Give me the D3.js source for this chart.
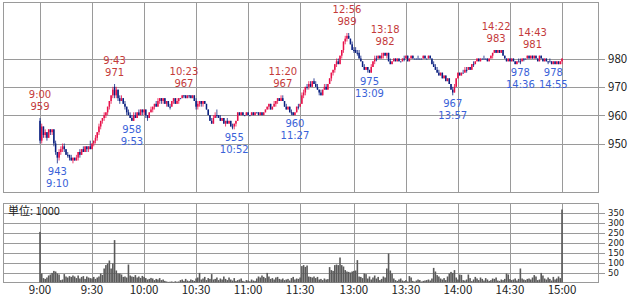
<!DOCTYPE html>
<html>
<head>
<meta charset="utf-8">
<script src="https://cdn.jsdelivr.net/npm/d3@7"></script>
<style>
body { margin: 0; background: #fff; }
svg text { font-family: "Noto Sans CJK JP", "DejaVu Sans", sans-serif; }
</style>
</head>
<body>
<svg id="chart" width="637" height="297"></svg>
<script>
// 1-minute candles [open, high, low, close], morning session from 9:00
const amCandles = [
    [958,959,950,951],[951,957,950,956],[956,956,952,953],[953,955,952,954],[954,954,951,952],[952,955,952,955],[955,955,953,954],[954,955,953,955],[955,955,949,950],[950,951,946,947],
    [947,947,943,945],[945,948,944,947],[947,949,946,948],[948,950,947,949],[949,950,947,948],[948,948,946,946],[946,947,945,946],[946,946,944,945],[945,946,944,944],[944,945,943,945],
    [945,945,944,944],[944,946,944,945],[945,947,944,947],[947,948,945,946],[946,948,946,948],[948,949,947,947],[947,949,947,949],[949,949,947,948],[948,949,947,949],[949,951,948,948],
    [948,950,948,950],[950,951,949,951],[951,953,950,952],[952,954,951,954],[954,957,953,956],[956,958,955,958],[958,959,957,959],[959,961,958,960],[960,961,959,961],[961,963,960,963],
    [963,965,962,965],[965,967,964,967],[967,970,966,969],[970,971,966,967],[967,970,966,969],[969,969,965,966],[966,967,964,965],[965,967,965,966],[966,966,964,964],[964,965,962,963],
    [963,963,960,961],[961,962,960,960],[960,961,959,959],[959,960,958,958],[958,961,958,960],[960,961,959,959],[959,961,959,961],[961,962,960,960],[960,962,960,962],[962,962,960,961],
    [961,962,960,962],[962,962,959,960],[960,960,958,959],[959,961,959,961],[961,963,961,962],[962,963,961,963],[963,964,962,964],[964,965,963,963],[963,966,963,965],[965,966,964,966],
    [966,966,964,965],[965,966,964,966],[966,966,964,964],[964,965,963,965],[965,965,963,963],[963,964,962,963],[963,965,963,965],[965,966,964,966],[966,966,964,964],[964,966,964,965],
    [965,966,964,966],[966,966,966,966],[966,967,966,967],[967,967,966,967],[967,967,966,966],[966,967,966,967],[967,967,966,967],[967,967,966,966],[966,967,966,967],[967,967,965,965],
    [965,966,962,963],[963,965,962,964],[964,965,963,965],[965,965,963,964],[964,965,963,965],[965,965,964,964],[964,964,962,962],[962,962,960,960],[960,960,958,958],[958,959,957,957],
    [957,960,957,959],[959,961,959,960],[960,962,959,960],[960,960,959,959],[959,960,958,958],[958,959,958,959],[959,959,957,957],[957,958,956,958],[958,959,957,957],[957,958,957,958],
    [958,958,956,956],[956,957,955,956],[956,957,955,957],[957,958,956,958],[958,961,958,961],[961,961,960,960],[960,961,960,961],[961,961,960,960],[960,960,960,960],[960,961,960,961],
    [961,961,960,960],[960,960,960,960],[960,961,960,961],[961,961,960,960],[960,961,960,961],[961,961,961,961],[961,961,960,960],[960,961,960,961],[961,961,960,960],[960,961,960,961],
    [961,962,961,962],[962,963,962,963],[963,964,962,964],[964,964,962,962],[962,963,962,963],[963,965,963,964],[964,965,963,965],[965,966,964,966],[966,966,965,965],[965,967,965,966],
    [966,967,965,965],[965,965,963,963],[963,964,962,962],[962,963,962,963],[963,963,961,961],[961,962,960,961],[961,961,960,960],[960,961,960,961],[961,963,961,963],[963,964,962,963],[963,964,963,964]
];

// afternoon session from 12:30
const pmCandles = [
    [964,968,964,967],[967,969,966,968],[968,970,967,970],[970,971,969,970],[970,972,969,971],[971,972,970,970],[970,972,970,972],[972,973,971,971],[971,972,970,970],[970,971,969,969],
    [969,969,967,968],[968,969,967,967],[967,969,967,969],[969,971,969,970],[970,971,969,969],[969,971,969,971],[971,973,971,973],[973,975,972,975],[975,976,974,976],[976,978,975,978],
    [978,980,977,979],[979,980,978,978],[978,981,978,981],[981,983,980,983],[983,986,982,986],[986,988,985,987],[987,989,986,988],[988,989,987,987],[987,987,985,985],[985,986,983,983],
    [983,984,982,983],[983,984,982,982],[982,983,981,982],[982,983,980,980],[980,981,979,979],[979,979,977,977],[977,978,976,976],[976,977,976,977],[977,977,975,976],[976,976,975,975],
    [975,978,975,977],[977,979,977,979],[979,981,978,980],[980,981,979,980],[980,981,980,981],[981,981,980,980],[980,982,980,981],[981,982,980,982],[982,982,981,981],[981,982,980,982],
    [982,982,979,979],[979,980,978,978],[978,979,978,979],[979,980,979,980],[980,980,979,979],[979,980,979,980],[980,980,979,979],[979,979,979,979],[979,980,979,980],[980,981,979,980],
    [980,981,980,981],[981,981,979,979],[979,980,979,980],[980,981,980,981],[981,981,980,980],[980,980,980,980],[980,980,980,980],[980,981,980,980],[980,980,980,980],[980,980,980,980],
    [980,981,980,981],[981,981,980,980],[980,980,980,980],[980,981,980,981],[981,981,980,980],[980,980,978,978],[978,979,977,977],[977,978,976,976],[976,977,975,975],[975,976,974,974],
    [974,975,974,975],[975,975,973,973],[973,974,973,974],[974,974,972,972],[972,973,972,973],[973,973,971,971],[971,971,969,969],[969,970,967,968],[968,971,968,970],[970,973,970,973],
    [973,975,973,975],[975,975,974,974],[974,975,974,975],[975,976,975,975],[975,977,975,976],[976,977,975,976],[976,977,976,977],[977,977,976,976],[976,978,976,978],[978,979,977,978],
    [978,979,978,979],[979,980,979,980],[980,980,979,979],[979,980,979,980],[980,980,980,980],[980,981,980,980],[980,980,980,980],[980,980,979,979],[979,980,979,980],[980,981,980,981],
    [981,982,980,982],[982,983,982,983],[983,983,982,982],[982,983,982,983],[983,983,982,982],[982,983,982,983],[983,983,981,981],[981,981,980,980],[980,980,979,979],[979,980,979,980],
    [980,980,979,979],[979,980,979,980],[980,980,979,979],[979,979,978,978],[978,979,978,979],[979,980,979,979],[979,980,978,979],[979,980,979,980],[980,980,979,980],[980,980,980,980],
    [980,981,980,981],[981,981,980,980],[980,981,980,981],[981,981,980,980],[980,981,980,981],[981,981,980,980],[980,980,979,979],[979,981,979,981],[981,981,980,980],[980,980,979,979],
    [979,980,979,980],[980,980,979,979],[979,979,978,979],[979,980,979,979],[979,979,978,978],[978,979,978,979],[979,979,978,978],[978,979,978,979],[979,979,978,978],[978,979,978,979],[979,980,978,980]
];

// volume per minute, unit 1000 shares
const amVolume = [
    253, 45, 22, 18, 25, 35, 40, 48, 58, 55,
    45, 40, 12, 15, 42, 30, 25, 32, 28, 35,
    30, 22, 35, 20, 28, 32, 18, 30, 25, 22,
    20, 28, 18, 25, 30, 45, 38, 70, 87, 95,
    110, 70, 95, 212, 60, 45, 45, 40, 28, 30,
    25, 90, 35, 30, 28, 37, 25, 30, 23, 33,
    28, 22, 15, 18, 23, 20, 12, 18, 15, 22,
    12, 15, 8, 5, 3, 4, 5, 3, 6, 4,
    5, 12, 15, 8, 18, 10, 7, 15, 12, 8,
    20, 25, 48, 15, 20, 28, 12, 22, 18, 42,
    15, 18, 25, 12, 20, 15, 30, 18, 12, 25,
    15, 10, 22, 8, 12, 15, 20, 8, 5, 12,
    10, 6, 15, 10, 8, 20, 30, 25, 35, 28,
    22, 48, 30, 18, 22, 15, 25, 28, 18, 15,
    20, 12, 15, 18, 10, 22, 28, 15, 20, 18, 25
];
const pmVolume = [
    82, 87, 78, 85, 30, 28, 25, 30, 22, 28,
    15, 18, 12, 20, 15, 17, 77, 62, 58, 87,
    90, 87, 125, 87, 80, 62, 55, 53, 50, 55,
    58, 60, 112, 30, 28, 22, 45, 42, 20, 30,
    15, 25, 35, 20, 28, 12, 18, 30, 25, 70,
    145, 60, 45, 20, 12, 8, 15, 20, 10, 7,
    12, 5, 32, 25, 8, 5, 10, 15, 12, 5,
    8, 10, 12, 15, 10, 20, 73, 55, 37, 30,
    20, 15, 22, 12, 30, 45, 53, 48, 62, 25,
    15, 40, 38, 12, 10, 15, 40, 22, 7, 15,
    28, 20, 12, 25, 18, 10, 22, 15, 8, 12,
    20, 18, 25, 10, 8, 15, 12, 18, 45, 40,
    17, 12, 15, 20, 10, 18, 70, 20, 15, 12,
    18, 20, 15, 25, 37, 30, 12, 15, 48, 35,
    20, 15, 25, 18, 10, 28, 15, 20, 30, 22, 365
];

const tickTimes = ['9:00', '9:30', '10:00', '10:30', '11:00', '11:30', '13:00', '13:30', '14:00', '14:30', '15:00'];
const priceTicks = [950, 960, 970, 980];
const volumeTicks = [50, 100, 150, 200, 250, 300, 350];

// labelled highs / lows
const markTimes = ['9:00', '9:10', '9:43', '9:53', '10:23', '10:52', '11:20', '11:27', '12:56', '13:09', '13:18', '13:57', '14:22', '14:36', '14:43', '14:55'];
const markKinds = ['high', 'low', 'high', 'low', 'high', 'low', 'high', 'low', 'high', 'low', 'high', 'low', 'high', 'low', 'high', 'low'];

const upColor = '#e8104a';
const downColor = '#0a2080';
const gridColor = '#9a9a9a';

const fmtTime = m => `${Math.floor(m / 60)}:${String(m % 60).padStart(2, '0')}`;
const times = d3.range(amCandles.length).map(i => fmtTime(540 + i))
    .concat(d3.range(pmCandles.length).map(i => fmtTime(750 + i)));
const volumes = amVolume.concat(pmVolume);
const bars = amCandles.concat(pmCandles).map((d, i) => ({
    time: times[i], open: d[0], high: d[1], low: d[2], close: d[3], volume: volumes[i]
}));
const byTime = new Map(bars.map(d => [d.time, d]));

const svg = d3.select('#chart');

const x = d3.scalePoint().domain(times).range([40, 562]);
const y = d3.scaleLinear().domain([950, 980]).range([143.5, 58.5]);
const yVol = d3.scaleLinear().domain([0, 350]).range([282.5, 212.5]);

const left = 3.5, right = 598.5;

// grid: price panel
const grid = svg.append('g').attr('stroke', gridColor).attr('shape-rendering', 'crispEdges');
grid.selectAll('.vp').data(tickTimes).enter().append('line')
    .attr('x1', d => Math.round(x(d)) + 0.5).attr('x2', d => Math.round(x(d)) + 0.5)
    .attr('y1', 2.5).attr('y2', 192.5);
grid.selectAll('.hp').data(priceTicks).enter().append('line')
    .attr('x1', left).attr('x2', right + 6)
    .attr('y1', d => Math.round(y(d)) + 0.5).attr('y2', d => Math.round(y(d)) + 0.5);
grid.append('rect').attr('x', left).attr('y', 2.5).attr('width', right - left).attr('height', 190)
    .attr('fill', 'none');

// grid: volume panel
grid.selectAll('.vv').data(tickTimes).enter().append('line')
    .attr('x1', d => Math.round(x(d)) + 0.5).attr('x2', d => Math.round(x(d)) + 0.5)
    .attr('y1', 203.5).attr('y2', 282.5);
grid.selectAll('.hv').data(volumeTicks).enter().append('line')
    .attr('x1', left).attr('x2', right + 6)
    .attr('y1', d => Math.round(yVol(d)) + 0.5).attr('y2', d => Math.round(yVol(d)) + 0.5);
grid.append('rect').attr('x', left).attr('y', 203.5).attr('width', right - left).attr('height', 79)
    .attr('fill', 'none');

// axis labels
svg.selectAll('.pl').data(priceTicks).enter().append('text')
    .attr('x', 608).attr('y', d => y(d) + 4.5)
    .attr('font-size', 11.5).attr('fill', '#222')
    .text(d => d);
svg.selectAll('.vl').data(volumeTicks).enter().append('text')
    .attr('x', 608).attr('y', d => yVol(d) + 3.2)
    .attr('font-size', 8.5).attr('fill', '#222')
    .style('font-family', '"DejaVu Sans", sans-serif')
    .text(d => d);
svg.selectAll('.tl').data(tickTimes).enter().append('text')
    .attr('x', d => x(d)).attr('y', 294)
    .attr('text-anchor', 'middle').attr('font-size', 11.5).attr('fill', '#222')
    .text(d => d);
svg.append('text').attr('x', 8).attr('y', 215)
    .attr('font-size', 11).attr('fill', '#222').text('単位: 1000');

// volume bars
svg.append('g').selectAll('rect').data(bars).enter().append('rect')
    .attr('x', d => x(d.time) - 0.8).attr('width', 1.6)
    .attr('y', d => yVol(d.volume)).attr('height', d => yVol(0) - yVol(d.volume))
    .attr('fill', '#5a5a5a');

// candles
const candle = svg.append('g').selectAll('g').data(bars).enter().append('g');
const colorOf = d => d.close > d.open ? upColor : downColor;
candle.append('line')
    .attr('x1', d => x(d.time)).attr('x2', d => x(d.time))
    .attr('y1', d => y(d.high)).attr('y2', d => y(d.low))
    .attr('stroke', colorOf).attr('stroke-width', 0.8);
candle.append('rect')
    .attr('x', d => x(d.time) - 0.75).attr('width', 1.5)
    .attr('y', d => y(Math.max(d.open, d.close)))
    .attr('height', d => Math.max(1, Math.abs(y(d.open) - y(d.close))))
    .attr('fill', colorOf);

// high / low annotations, two lines each
const marks = markTimes.map((t, i) => {
    const d = byTime.get(t);
    return { time: t, kind: markKinds[i], value: markKinds[i] === 'high' ? d.high : d.low };
});
const ann = svg.append('g').selectAll('text').data(marks).enter().append('text')
    .attr('font-size', 10).attr('text-anchor', 'middle')
    .style('font-family', '"DejaVu Sans", sans-serif')
    .attr('fill', d => d.kind === 'high' ? '#c43a3a' : '#3a62d8');
ann.append('tspan')
    .attr('x', d => x(d.time))
    .attr('y', d => d.kind === 'high' ? y(d.value) - 20 : y(d.value) + 12)
    .text(d => d.kind === 'high' ? d.time : d.value);
ann.append('tspan')
    .attr('x', d => x(d.time))
    .attr('y', d => d.kind === 'high' ? y(d.value) - 8 : y(d.value) + 24)
    .text(d => d.kind === 'high' ? d.value : d.time);
</script>
</body>
</html>
